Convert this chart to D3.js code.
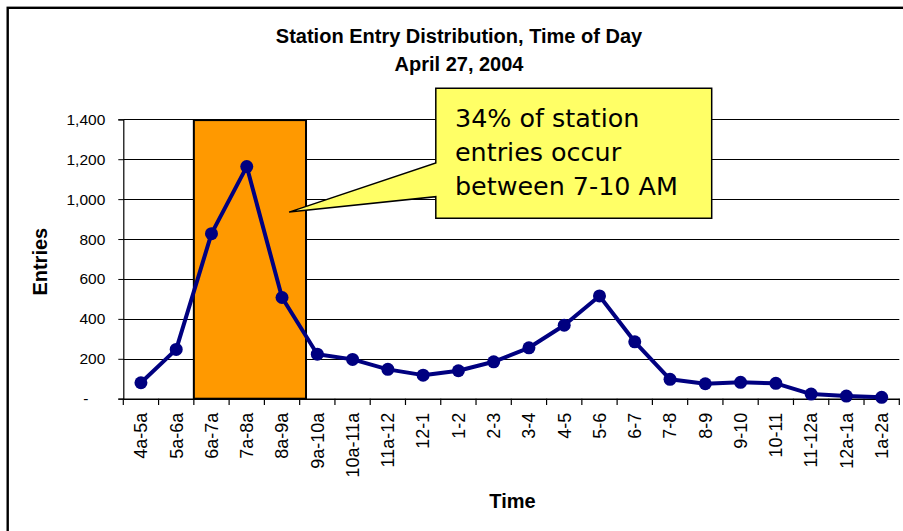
<!DOCTYPE html>
<html>
<head>
<meta charset="utf-8">
<script src="https://cdn.jsdelivr.net/npm/d3@7"></script>
<style>
  html, body { margin: 0; padding: 0; background: #fff; }
  svg { display: block; }
</style>
</head>
<body>
<svg id="chart" width="903" height="531"></svg>
<script>
// Hourly station entries, April 27, 2004
const timeSlots = ["4a-5a", "5a-6a", "6a-7a", "7a-8a", "8a-9a", "9a-10a", "10a-11a", "11a-12",
  "12-1", "1-2", "2-3", "3-4", "4-5", "5-6", "6-7", "7-8", "8-9", "9-10", "10-11",
  "11-12a", "12a-1a", "1a-2a"];
const entries = [80, 247, 827, 1163, 507, 223, 197, 147, 118, 140, 185, 255, 368, 515,
  285, 97, 75, 82, 77, 23, 13, 7];
const yTicks = [0, 200, 400, 600, 800, 1000, 1200, 1400];
const titleLines = ["Station Entry Distribution, Time of Day", "April 27, 2004"];
const calloutLines = ["34% of station", "entries occur", "between 7-10 AM"];
const peakWindow = ["6a-7a", "8a-9a"];
const calloutValue = 935;

const svg = d3.select("#chart");
const sans = "'Liberation Sans', Arial, sans-serif";

// Chart frame
svg.append("rect")
  .attr("x", 7.7).attr("y", 7.8)
  .attr("width", 1000).attr("height", 1000)
  .attr("fill", "#fff").attr("stroke", "#000").attr("stroke-width", 2.4);

const x = d3.scaleBand().domain(timeSlots).range([123.3, 899.3]).padding(0);
const y = d3.scaleLinear().domain([0, 1400]).range([398.7, 119.3]);
const bw = x.bandwidth();

// Titles
svg.append("g").selectAll("text").data(titleLines).join("text")
  .attr("x", 459).attr("y", (d, i) => i === 0 ? 43.3 : 71)
  .attr("text-anchor", "middle")
  .attr("font-family", sans).attr("font-weight", "bold").attr("font-size", 20)
  .text(d => d);

// Horizontal gridlines
svg.append("g").selectAll("line").data(yTicks.filter(d => d > 0)).join("line")
  .attr("x1", 123.3).attr("x2", 899.3)
  .attr("y1", d => Math.round(y(d)) + 0.5).attr("y2", d => Math.round(y(d)) + 0.5)
  .attr("stroke", "#000").attr("stroke-width", 1);

// Y axis
const yAxis = d3.axisLeft(y).tickValues(yTicks).tickSize(5).tickPadding(13)
  .tickFormat(d => d === 0 ? "-" : d3.format(",")(d));
const gy = svg.append("g").attr("transform", "translate(123.3,0)").call(yAxis);
gy.select(".domain").attr("stroke", "#000").attr("stroke-width", 1.2);
gy.selectAll(".tick line").attr("stroke", "#000");
gy.selectAll(".tick text")
  .attr("font-family", sans).attr("font-size", 15.5).attr("fill", "#000")
  .attr("dx", d => d === 0 ? -17 : 0);

// Peak-period highlight
const hx0 = x(peakWindow[0]);
const hx1 = x(peakWindow[1]) + bw * 1.18;
svg.append("rect")
  .attr("x", hx0).attr("y", y(1400) + 0.8)
  .attr("width", hx1 - hx0).attr("height", y(0) - y(1400) - 0.8)
  .attr("fill", "#FF9900").attr("stroke", "#000").attr("stroke-width", 2);

// X axis
const xAxis = d3.axisBottom(x).tickSize(0).tickPadding(0);
const gx = svg.append("g").attr("transform", `translate(0,${y(0)})`).call(xAxis);
gx.select(".domain").attr("stroke", "#000").attr("stroke-width", 1.5);
gx.selectAll(".tick text")
  .attr("font-family", sans).attr("font-size", 18).attr("fill", "#000")
  .attr("transform", "rotate(-90)")
  .attr("text-anchor", "end")
  .attr("x", -14).attr("y", 0).attr("dy", "0.35em");
// boundary ticks between time slots
svg.append("g").selectAll("line").data(d3.range(timeSlots.length + 1)).join("line")
  .attr("x1", i => 123.3 + i * bw).attr("x2", i => 123.3 + i * bw)
  .attr("y1", y(0)).attr("y2", y(0) + 6.3)
  .attr("stroke", "#000").attr("stroke-width", 1.2);

// Entries line with markers
const line = d3.line().x((d, i) => x(timeSlots[i]) + bw / 2).y(d => y(d));
svg.append("path").datum(entries)
  .attr("d", line)
  .attr("fill", "none").attr("stroke", "#000080").attr("stroke-width", 4)
  .attr("stroke-linejoin", "round");
svg.append("g").selectAll("circle").data(entries).join("circle")
  .attr("cx", (d, i) => x(timeSlots[i]) + bw / 2)
  .attr("cy", d => y(d))
  .attr("r", 6.5)
  .attr("fill", "#000080");

// Axis titles
svg.append("text")
  .attr("transform", "translate(46.5,261.7) rotate(-90)")
  .attr("text-anchor", "middle")
  .attr("font-family", sans).attr("font-weight", "bold").attr("font-size", 20)
  .text("Entries");
svg.append("text")
  .attr("x", 512.5).attr("y", 508)
  .attr("text-anchor", "middle")
  .attr("font-family", sans).attr("font-weight", "bold").attr("font-size", 20)
  .text("Time");

// Callout box with pointer into the highlighted period
const tipX = x(peakWindow[1]) + bw * 0.7;
const tipY = y(calloutValue);
const bx0 = 435.8, by0 = 88.3, bx1 = 711.7, by1 = 218.3;
const callout = d3.path();
callout.moveTo(bx0, by0);
callout.lineTo(bx1, by0);
callout.lineTo(bx1, by1);
callout.lineTo(bx0, by1);
callout.lineTo(bx0, 196.7);
callout.lineTo(tipX, tipY);
callout.lineTo(bx0, 163);
callout.closePath();
svg.append("path")
  .attr("d", callout.toString())
  .attr("fill", "#FFFF66").attr("stroke", "#000").attr("stroke-width", 1.5)
  .attr("stroke-linejoin", "miter");
svg.append("g").selectAll("text").data(calloutLines).join("text")
  .attr("x", 455).attr("y", (d, i) => 126.7 + i * 34.2)
  .attr("font-family", "'DejaVu Sans', Verdana, sans-serif").attr("font-size", 25.4)
  .attr("fill", "#000")
  .text(d => d);
</script>
</body>
</html>
